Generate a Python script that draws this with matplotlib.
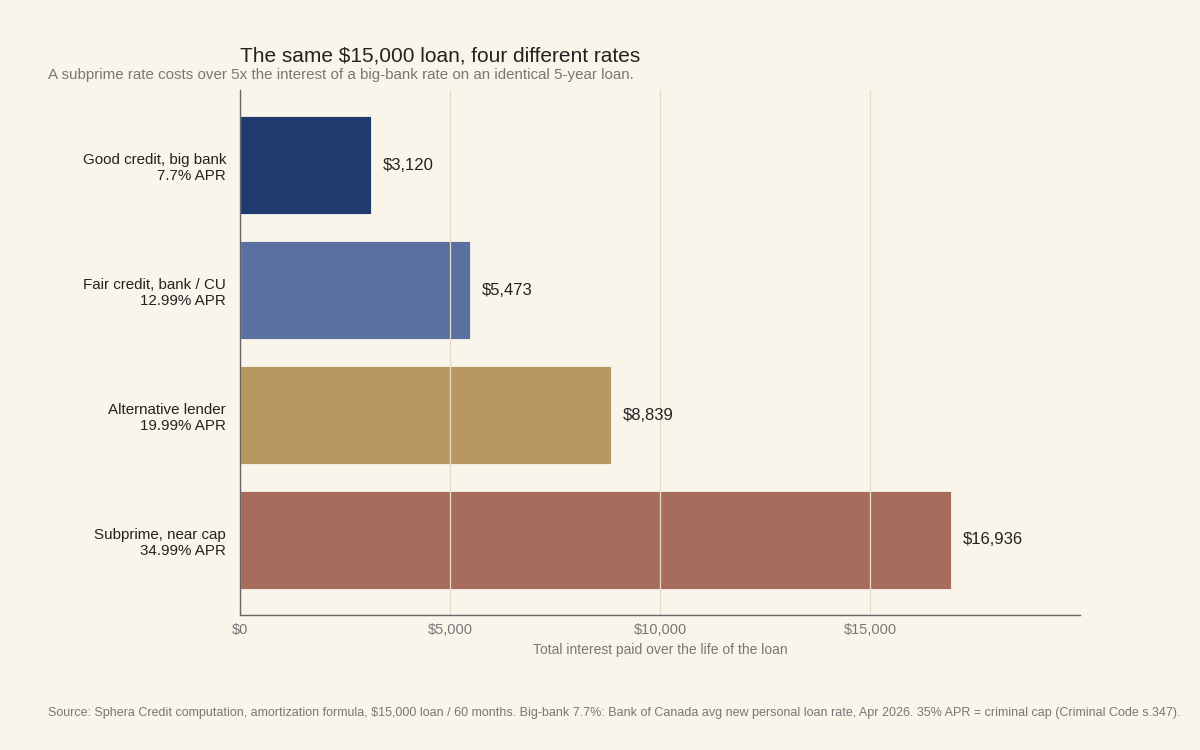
import matplotlib
matplotlib.use("Agg")
import matplotlib.pyplot as plt
from matplotlib.ticker import FuncFormatter

categories = ["Good credit, big bank\n7.7% APR",
              "Fair credit, bank / CU\n12.99% APR",
              "Alternative lender\n19.99% APR",
              "Subprime, near cap\n34.99% APR"]
interest = [3120, 5473, 8839, 16936]
colors = ["#1e3a6f", "#5a70a1", "#b89760", "#a86c5d"]
xticks = [0, 5000, 10000, 15000]

bg = "#f9f5ea"
plt.rcParams["font.family"] = ["Liberation Sans", "DejaVu Sans"]

fig = plt.figure(figsize=(12, 7.5), dpi=100, facecolor=bg)
ax = fig.add_axes([0.2, 0.18, 0.7, 0.7])
ax.set_facecolor(bg)

y = list(range(len(categories)))
ax.barh(y, interest, height=0.78, color=colors, edgecolor=bg, linewidth=0.6, zorder=2)
for yi, v in zip(y, interest):
    ax.text(v + 280, yi, "${:,}".format(v), va="center", ha="left",
            fontsize=12, color="#222222")

ax.set_xlim(0, 20000)
ax.set_ylim(3.6, -0.6)
ax.set_yticks(y)
ax.set_yticklabels(categories, fontsize=10.9, color="#222222", ha="right")
ax.set_xticks(xticks)
ax.xaxis.set_major_formatter(FuncFormatter(lambda v, p: "${:,.0f}".format(v)))
ax.tick_params(axis="x", length=0, labelsize=10.5, labelcolor="#777777", pad=6)
ax.tick_params(axis="y", length=0, pad=10)
ax.grid(axis="x", color="#e4dcc5", linewidth=0.9, zorder=3)
ax.set_axisbelow(False)
for s in ["top", "right"]:
    ax.spines[s].set_visible(False)
for s in ["left", "bottom"]:
    ax.spines[s].set_color("#666666")
    ax.spines[s].set_linewidth(1.0)
    ax.spines[s].set_zorder(4)
ax.set_xlabel("Total interest paid over the life of the loan",
              fontsize=10, color="#777777", labelpad=4)

fig.text(0.2, 0.918, "The same $15,000 loan, four different rates",
         fontsize=15, color="#222222", ha="left", va="baseline")
fig.text(0.04, 0.895,
         "A subprime rate costs over 5x the interest of a big-bank rate on an identical 5-year loan.",
         fontsize=10.9, color="#777777", ha="left", va="baseline")
fig.text(0.04, 0.045,
         "Source: Sphera Credit computation, amortization formula, $15,000 loan / 60 months. "
         "Big-bank 7.7%: Bank of Canada avg new personal loan rate, Apr 2026. "
         "35% APR = criminal cap (Criminal Code s.347).",
         fontsize=9, color="#777777", ha="left", va="baseline")

fig.savefig("out.png", dpi=100, facecolor=bg)
